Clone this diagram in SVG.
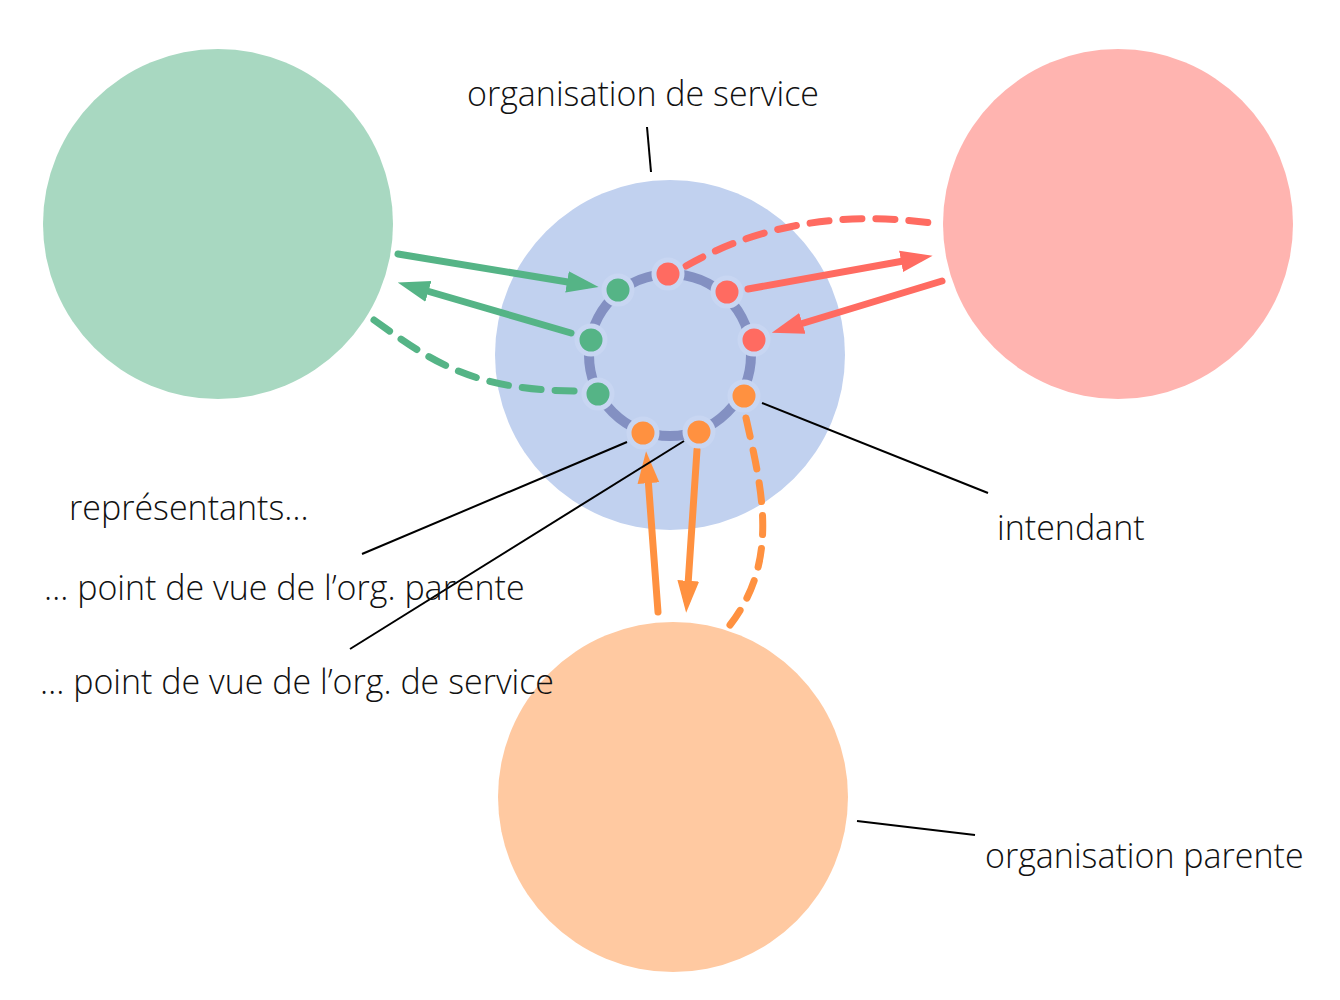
<svg xmlns="http://www.w3.org/2000/svg" width="1340" height="1000" viewBox="0 0 1340 1000">
<style>
text{font-family:"Open Sans","Noto Sans","Liberation Sans",sans-serif;font-size:34px;font-weight:300;fill:#111}
.lead{stroke:#000;stroke-width:2;fill:none}
.g{stroke:#55b486;stroke-width:7;fill:none;stroke-linecap:round}
.r{stroke:#ff6b61;stroke-width:7;fill:none;stroke-linecap:round}
.o{stroke:#ff9140;stroke-width:7;fill:none;stroke-linecap:round}
.d{stroke-dasharray:19 14}
.dot{stroke:#c8d6f2;stroke-width:5}
</style>
<defs>
<marker id="ag" viewBox="0 0 10 10" refX="6" refY="5" markerWidth="32" markerHeight="32" orient="auto" markerUnits="userSpaceOnUse"><path d="M0,1.6 L10,5 L0,8.4 Z" fill="#55b486"/></marker>
<marker id="ar" viewBox="0 0 10 10" refX="6" refY="5" markerWidth="32" markerHeight="32" orient="auto" markerUnits="userSpaceOnUse"><path d="M0,1.6 L10,5 L0,8.4 Z" fill="#ff6b61"/></marker>
<marker id="ao" viewBox="0 0 10 10" refX="6" refY="5" markerWidth="32" markerHeight="32" orient="auto" markerUnits="userSpaceOnUse"><path d="M0,1.6 L10,5 L0,8.4 Z" fill="#ff9140"/></marker>
</defs>
<g id="green"><circle cx="218" cy="224" r="175" fill="#a8d8c1"/></g>
<g id="red"><circle cx="1118" cy="224" r="175" fill="#ffb4b0"/></g>
<g id="orange"><circle cx="673" cy="797" r="175" fill="#ffc9a1"/></g>
<g id="service"><circle cx="670" cy="355" r="175" fill="#c1d1ef"/>
<circle cx="670" cy="355" r="81" fill="none" stroke="#8390c2" stroke-width="10"/></g>
<g id="connectors">
<path class="g" d="M398,254 L586,285" marker-end="url(#ag)"/>
<path class="g" d="M571,333 L410,286" marker-end="url(#ag)"/>
<path class="g d" d="M374,320 C430,360 470,390 575,391"/>
<path class="r d" d="M686,266 C770,218 860,212 938,224"/>
<path class="r" d="M748,289 L920,258" marker-end="url(#ar)"/>
<path class="r" d="M942,281 L784,329" marker-end="url(#ar)"/>
<path class="o" d="M658,612 L647,464" marker-end="url(#ao)"/>
<path class="o" d="M697,450 L687,600" marker-end="url(#ao)"/>
<path class="o d" d="M746,418 C762,490 780,560 730,625"/>
<path class="lead" d="M647,127 L651,172"/>
<path class="lead" d="M762,403 L988,493"/>
<path class="lead" d="M627,442 L362,554"/>
<path class="lead" d="M684,441 L350,649"/>
<path class="lead" d="M857,821 L975,835"/>
</g>
<g id="dots">
<circle class="dot" cx="618" cy="290" r="14" fill="#55b486"/>
<circle class="dot" cx="591" cy="340" r="14" fill="#55b486"/>
<circle class="dot" cx="598" cy="394" r="14" fill="#55b486"/>
<circle class="dot" cx="668" cy="274" r="14" fill="#ff6b61"/>
<circle class="dot" cx="727" cy="292" r="14" fill="#ff6b61"/>
<circle class="dot" cx="754" cy="340" r="14" fill="#ff6b61"/>
<circle class="dot" cx="744" cy="396" r="14" fill="#ff9140"/>
<circle class="dot" cx="699" cy="432" r="14" fill="#ff9140"/>
<circle class="dot" cx="643" cy="433" r="14" fill="#ff9140"/>
</g>
<g id="labels">
<text x="467" y="106">organisation de service</text>
<text x="997" y="540">intendant</text>
<text x="69" y="520">représentants…</text>
<text x="44" y="600">… point de vue de l’org. parente</text>
<text x="40" y="694">… point de vue de l’org. de service</text>
<text x="985" y="868">organisation parente</text>
</g>
</svg>
